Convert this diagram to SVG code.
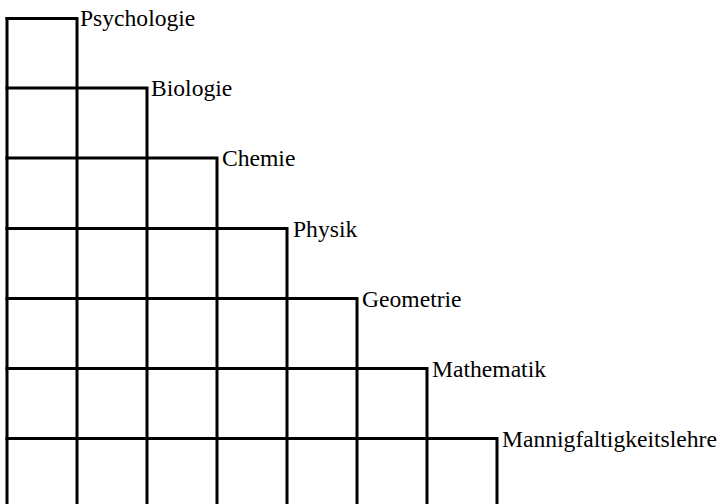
<svg xmlns="http://www.w3.org/2000/svg" width="721" height="504" viewBox="0 0 721 504">
<style>
.ln{fill:none;stroke:#000;stroke-width:3;stroke-linejoin:miter;stroke-linecap:square}
.lb{font-family:"Liberation Serif","Times New Roman",serif;font-size:23.6px;fill:#000}
</style>
<rect width="721" height="504" fill="#fff"/>
<g id="connectors">
<path class="ln" d="M7,505 V18.5"/>
</g>
<g id="psychologie"><path class="ln" d="M7,18.5 H77 V505"/><text class="lb" x="80" y="26">Psychologie</text></g>
<g id="biologie"><path class="ln" d="M7,88 H147 V505"/><text class="lb" x="151" y="96">Biologie</text></g>
<g id="chemie"><path class="ln" d="M7,158 H217 V505"/><text class="lb" x="222" y="166">Chemie</text></g>
<g id="physik"><path class="ln" d="M7,228.5 H287 V505"/><text class="lb" x="293" y="237">Physik</text></g>
<g id="geometrie"><path class="ln" d="M7,298.5 H357 V505"/><text class="lb" x="362" y="307">Geometrie</text></g>
<g id="mathematik"><path class="ln" d="M7,368.5 H427 V505"/><text class="lb" x="432" y="377">Mathematik</text></g>
<g id="mannigfaltigkeitslehre"><path class="ln" d="M7,438.5 H497 V505"/><text class="lb" x="502" y="447">Mannigfaltigkeitslehre</text></g>
</svg>
